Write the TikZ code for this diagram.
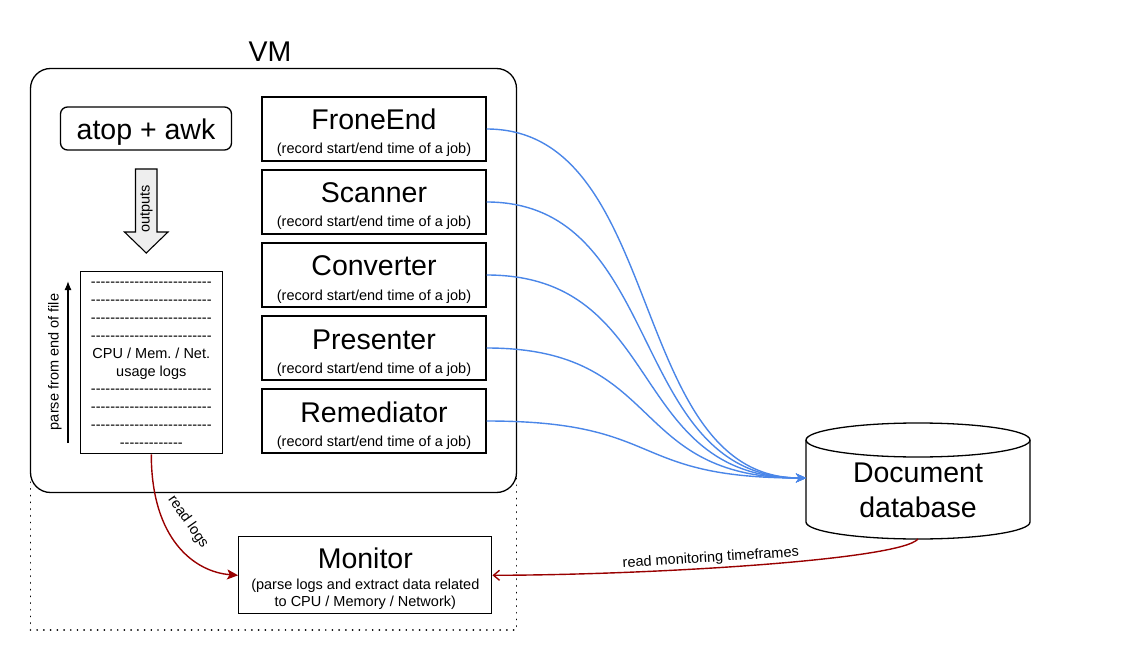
\documentclass[tikz,border=0pt]{standalone}
\usepackage{fontspec}
\setmainfont{Liberation Sans}
\newfontfamily\dashfont[Ligatures=TeXOff]{Liberation Sans}
\usetikzlibrary{arrows.meta}
\definecolor{linkblue}{HTML}{4A86E8}
\definecolor{linkred}{HTML}{990000}
\definecolor{arrowgray}{HTML}{EEEEEE}
\tikzset{
  bigtxt/.style={font=\fontsize{28.5}{34}\selectfont, inner sep=0pt},
  smalltxt/.style={font=\fontsize{14.5}{17.5}\selectfont, inner sep=0pt},
  dashtxt/.style={font=\dashfont\fontsize{14.5}{17.5}\selectfont, inner sep=0pt},
  box/.style={draw, line width=1.3pt, inner sep=0pt},
  jobbox/.style={box, minimum width=224pt, minimum height=64pt},
  bluelink/.style={draw=linkblue, line width=1.4pt, -{Stealth[length=10pt,width=9pt,inset=3pt]}},
  redlink/.style={draw=linkred, line width=1.4pt},
}
\begin{document}
\frenchspacing
\begin{tikzpicture}[x=1pt,y=-1pt]
\useasboundingbox (0,0) rectangle (1137,652);

% dotted group around VM and Monitor
\node[draw, line width=1.9pt, dash pattern=on 0.01pt off 6.7pt, line cap=round,
      minimum width=486pt, minimum height=175pt, inner sep=0pt] (grp) at (273.5,542.5) {};
% VM box
\node[box, fill=white, rounded corners=20pt, minimum width=486pt, minimum height=424pt] (vm) at (273.5,280.5) {};
\node[bigtxt, anchor=base] (vmlabel) at (270,62) {VM};

% atop + awk
\node[box, rounded corners=7pt, minimum width=171pt, minimum height=43pt] (atop) at (146,128.5) {};
\node[bigtxt, anchor=base] (atoptxt) at (146,140) {atop + awk};

% outputs block arrow
\draw[line width=1.1pt, fill=arrowgray] (135.5,169) -- (157,169) -- (157,232) -- (168,232)
   -- (146.25,253) -- (124.5,232) -- (135.5,232) -- cycle;
\node[smalltxt, rotate=90] (outtxt) at (146.5,209) {outputs};

% log file
\node[box, minimum width=142pt, minimum height=182pt] (log) at (151.3,362.8) {};
\foreach \yy/\txt [count=\i] in {
   287/{-------------------------},
   304.8/{-------------------------},
   322.6/{-------------------------},
   340.4/{-------------------------},
   393.8/{-------------------------},
   411.6/{-------------------------},
   429.4/{-------------------------},
   447.2/{-------------}} {
  \node[dashtxt, anchor=base] (logline\i) at (151.3,\yy) {\txt};
}
\node[smalltxt, anchor=base] (logcpu) at (151.3,358.4) {CPU / Mem. / Net.};
\node[smalltxt, anchor=base] (logusage) at (151.3,376) {usage logs};

% parse from end of file
\coordinate (pbot) at (68,443);
\coordinate (ptop) at (68,281);
\draw[line width=1.3pt, -{Latex[length=9pt,width=7pt]}] (pbot) -- (ptop);
\node[smalltxt, rotate=90] (parsetxt) at (55,362) {parse from end of file};

% database cylinder
\node[minimum width=224pt, minimum height=118pt, inner sep=0pt] (db) at (918,481) {};
\draw[line width=1.3pt, fill=white] (806,440) -- (806,522)
   .. controls (806,531.4) and (856.1,539) .. (918,539)
   .. controls (979.9,539) and (1030,531.4) .. (1030,522) -- (1030,440);
\draw[line width=1.3pt, fill=white] (918,440) ellipse [x radius=112pt, y radius=17pt];
\node[bigtxt, anchor=base] (dbtxt1) at (918,482) {Document};
\node[bigtxt, anchor=base] (dbtxt2) at (918,517) {database};
\coordinate (dbin) at (806,478);
\coordinate (dbout) at (918,539);

% job boxes with links to the database
\foreach \n/\ttl/\ty in {fe/FroneEnd/97, sc/Scanner/170, co/Converter/243, pr/Presenter/316, re/Remediator/389} {
  \node[jobbox] (\n) at (374,\ty+32) {};
  \node[bigtxt, anchor=base] (\n-t) at (374,\ty+33) {\ttl};
  \node[smalltxt, anchor=base] (\n-s) at (374,\ty+57) {(record start/end time of a job)};
  \draw[bluelink] (\n.east) .. controls +(180,0) and +(-180,0) .. (dbin);
}

% Monitor
\node[box, minimum width=253pt, minimum height=77pt] (mon) at (365.3,575.3) {};
\node[bigtxt, anchor=base] (montxt) at (365.3,568) {Monitor};
\node[smalltxt, anchor=base] (monsub1) at (365.3,589.5) {(parse logs and extract data related};
\node[smalltxt, anchor=base] (monsub2) at (365.3,606.5) {to CPU / Memory / Network)};

% read logs
\draw[redlink, -{Stealth[length=11pt,width=10pt,inset=2.5pt]}] (log.south)
   .. controls (151.3,540) and (195,572) .. (mon.west);
\node[smalltxt, rotate=-55] (readlogs) at (188,522) {read logs};

% read monitoring timeframes
\draw[redlink, -{Straight Barb[length=6pt,width=10pt]}] (dbout)
   .. controls (900,560) and (650,575) .. (mon.east);
\node[smalltxt, anchor=base, rotate=3.6] (readmon) at (711,562) {read monitoring timeframes};
\end{tikzpicture}
\end{document}
